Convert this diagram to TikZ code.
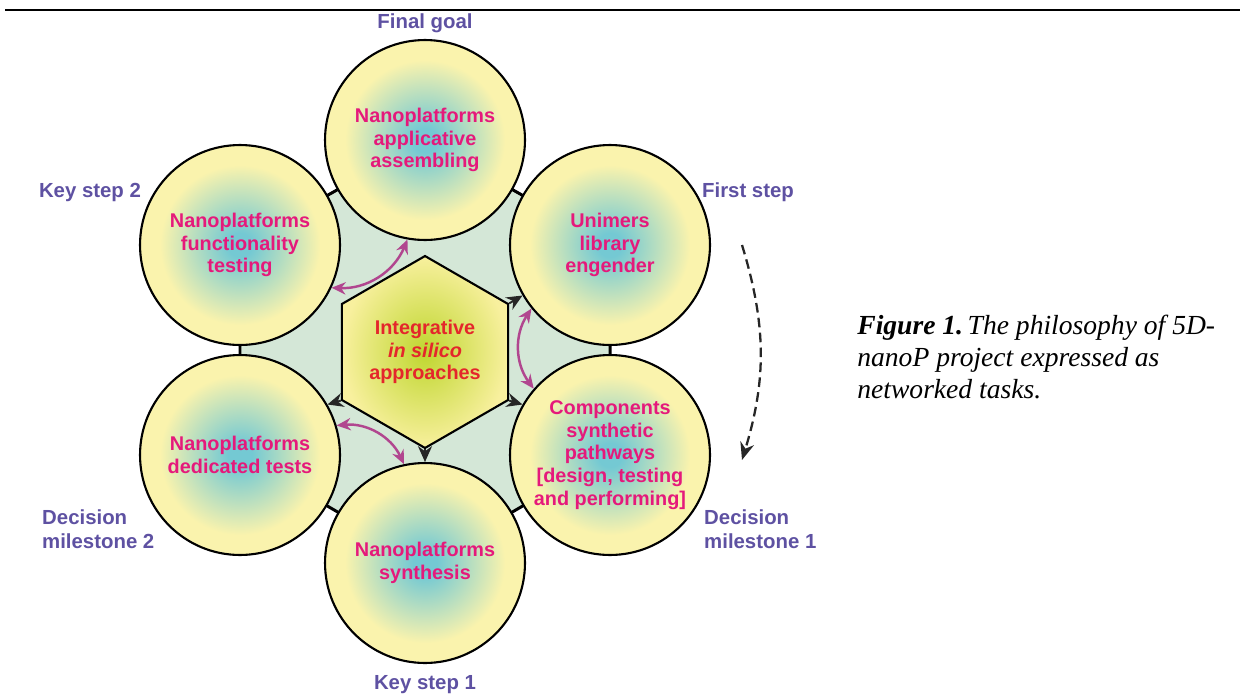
\documentclass[tikz,border=0pt]{standalone}
\usepackage{fontspec}
\setmainfont{Liberation Sans}
\newfontfamily\capserif{Liberation Serif}
\usetikzlibrary{shapes.geometric,arrows.meta}

\definecolor{taskpink}{HTML}{E5197B}
\definecolor{stagepurple}{HTML}{5E51A2}
\definecolor{hubred}{HTML}{E4262B}
\definecolor{ringgreen}{HTML}{D4E7D7}
\definecolor{glowin}{HTML}{74C9D3}
\definecolor{glowout}{HTML}{FAF3AD}
\definecolor{hubin}{HTML}{BFD62F}
\definecolor{hubout}{HTML}{F8F09E}
\definecolor{swapcol}{HTML}{B1468F}

\pgfdeclareradialshading{taskglow}{\pgfpoint{0bp}{0bp}}{color(0bp)=(glowin); color(3bp)=(glowin); color(20bp)=(glowout); color(50bp)=(glowout)}

\tikzset{
	task/.style={circle, draw=black, line width=1.2pt, minimum size=4cm, inner sep=0pt, shading=taskglow, align=center, text=taskpink, font=\bfseries\fontsize{11.3}{12.9}\selectfont},
	hub/.style={regular polygon, regular polygon sides=6, shape border rotate=30, minimum size=3.84cm, inner sep=0pt, draw=black, line width=1.2pt, shading=radial, inner color=hubin, outer color=hubout, align=center, text=hubred, font=\bfseries\fontsize{11.3}{12.9}\selectfont},
	stage/.style={text=stagepurple, align=left, font=\bfseries\fontsize{11.6}{13.6}\selectfont},
	ring/.style={fill=ringgreen, draw=black, line width=1.7pt},
	feed/.style={-{Stealth[length=9pt,width=8pt]}, line width=1.1pt, black!85},
	swap/.style={{Stealth[length=8pt,width=7pt]}-{Stealth[length=8pt,width=7pt]}, line width=1.4pt, swapcol},
	flow/.style={-{Stealth[length=10pt,width=8pt]}, dash pattern=on 5.5pt off 3pt, line width=1.3pt, black!85},
	figcap/.style={align=left, inner sep=0pt, font=\capserif\itshape\fontsize{15.7}{18.1}\selectfont}
}

\begin{document}
\begin{tikzpicture}[x=0.02cm, y=0.02cm]
		\useasboundingbox (0,0) rectangle (1240,698);
	% Linea superior
		\draw[line width=1.7pt] (5,688) -- (1240,688);

	% Centros
		\coordinate (pGoal) at (425,558);
		\coordinate (pFirst) at (610,453);
		\coordinate (pComp) at (610,243);
		\coordinate (pSynth) at (425,135);
		\coordinate (pTests) at (240,243);
		\coordinate (pFunc) at (240,453);

	% Fondo
		\draw[ring] (pGoal) -- (pFirst) -- (pComp) -- (pSynth) -- (pTests) -- (pFunc) -- cycle;

	% Tareas
		\node[task] (goal) at (pGoal) {Nanoplatforms\\applicative\\assembling};
		\node[task] (first) at (pFirst) {Unimers\\library\\engender};
		\node[task] (comp) at (pComp) {Components\\synthetic\\pathways\\{[}design, testing\\and performing{]}};
		\node[task] (synth) at (pSynth) {Nanoplatforms\\synthesis};
		\node[task] (tests) at (pTests) {Nanoplatforms\\dedicated tests};
		\node[task] (func) at (pFunc) {Nanoplatforms\\functionality\\testing};

	% Hexagono central
		\node[hub] (hub) at (425,346) {Integrative\\\textit{in silico}\\approaches};

	% Flechas
		\draw[feed] (hub.30) -- (first.210);
		\draw[feed] (hub.-30) -- (comp.150);
		\draw[feed] (hub.-90) -- (synth.90);
		\draw[feed] (hub.210) -- (tests.30);
		\draw[swap] (goal.260) to[bend left=35] (func.335);
		\draw[swap] (first.219) to[bend right=35] (comp.139);
		\draw[swap] (tests.17) to[bend left=35] (synth.102);

	% Ciclo
		\coordinate (cycA) at (742,453);
		\coordinate (cycB) at (742,238);
		\draw[flow] (cycA) to[bend left=17] (cycB);

	% Etiquetas
		\node[stage] (goalLbl) at (425,675) {Final goal};
		\node[stage] (firstLbl) at (748,506) {First step};
		\node[stage] (funcLbl) at (90,506) {Key step 2};
		\node[stage, anchor=west] (compLbl) at (698,169) {Decision\\milestone 1};
		\node[stage, anchor=west] (testsLbl) at (36,169) {Decision\\milestone 2};
		\node[stage] (synthLbl) at (425,13) {Key step 1};

	% Leyenda
		\node[figcap, anchor=north west] (cap) at (857,383) {\textbf{Figure 1.}\,The philosophy of 5D-\\nanoP project expressed as\\networked tasks.};
\end{tikzpicture}
\end{document}
